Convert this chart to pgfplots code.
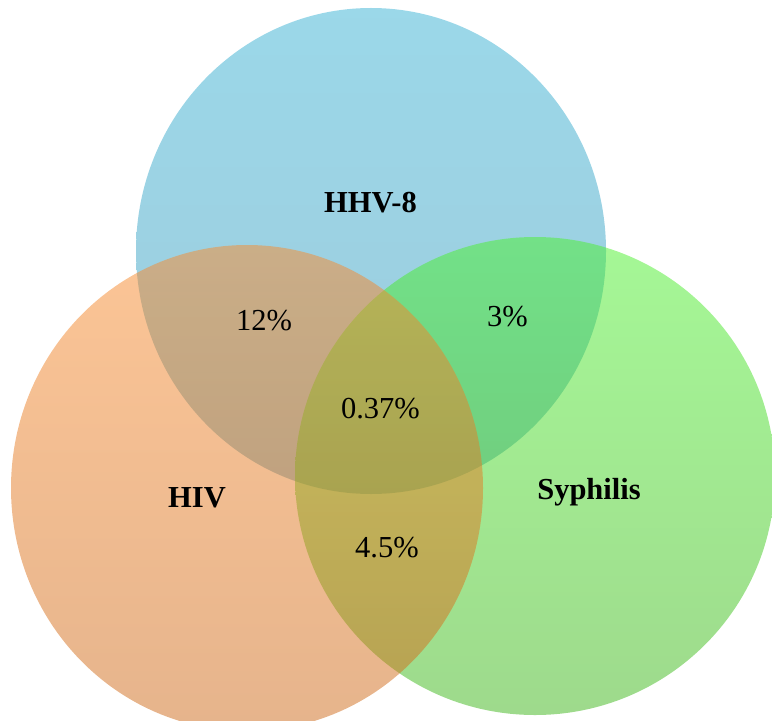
\documentclass[border=0pt]{standalone}
\usepackage{pgfplots}
\pgfplotsset{compat=1.18}
\usepackage{fontspec}
\setmainfont{Liberation Serif}
\definecolor{bT}{RGB}{55,177,211}
\definecolor{bB}{RGB}{61,151,185}
\definecolor{oT}{RGB}{249,139,45}
\definecolor{oB}{RGB}{205,105,25}
\definecolor{gT}{RGB}{75,241,45}
\definecolor{gB}{RGB}{61,181,25}
\pgfdeclareplotmark{vennB}{\shade[draw=none,top color=bT,bottom color=bB,fill opacity=0.5] (0,0) ellipse [x radius=235bp, y radius=243bp];}
\pgfdeclareplotmark{vennO}{\shade[draw=none,top color=oT,bottom color=oB,fill opacity=0.5] (0,0) ellipse [x radius=236bp, y radius=243bp];}
\pgfdeclareplotmark{vennG}{\shade[draw=none,top color=gT,bottom color=gB,fill opacity=0.5] (0,0) ellipse [x radius=240bp, y radius=239bp];}
\begin{document}
\begin{tikzpicture}
\begin{axis}[
  width=772bp, height=721bp, scale only axis,
  xmin=0, xmax=772, ymin=0, ymax=721, y dir=reverse,
  hide axis, clip marker paths=true,
]
\addplot[only marks, draw=none, mark=vennB] coordinates {(371,251)};
\addplot[only marks, draw=none, mark=vennG] coordinates {(535,476)};
\addplot[only marks, draw=none, mark=vennO] coordinates {(247,488)};
\begin{scope}[every node/.style={anchor=base, inner sep=0pt, font=\fontsize{30.5bp}{36bp}\selectfont}]
\node at (axis cs:370.5,212) {\textbf{HHV-8}};
\node at (axis cs:197,507) {\textbf{HIV}};
\node at (axis cs:589,499) {\textbf{Syphilis}};
\node at (axis cs:264,330) {12\%};
\node at (axis cs:507.5,326) {3\%};
\node at (axis cs:380.5,418) {0.37\%};
\node at (axis cs:387,557) {4.5\%};
\end{scope}
\end{axis}
\pgfresetboundingbox
\useasboundingbox (current axis.south west) rectangle (current axis.north east);
\end{tikzpicture}
\end{document}
